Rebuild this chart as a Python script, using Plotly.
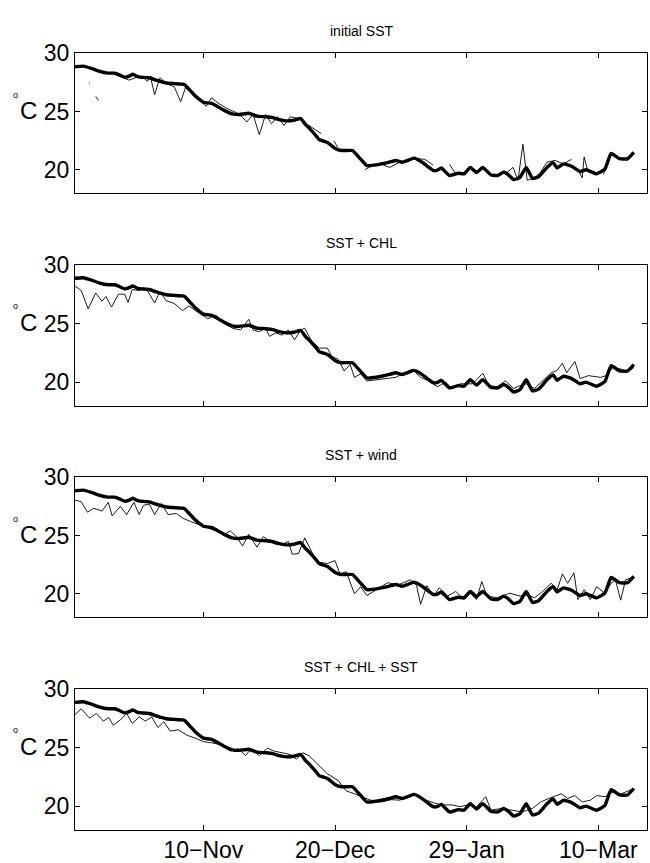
import plotly.graph_objects as go
import pandas as pd

START = "2002-10-02"

panel_titles = ["initial SST", "SST + CHL", "SST + wind", "SST + CHL + SST"]
tick_dates = ["2002-11-10", "2002-12-20", "2003-01-29", "2003-03-10"]
tick_labels = ["10\u2212Nov", "20\u2212Dec", "29\u2212Jan", "10\u2212Mar"]
y_ticks = [20, 25, 30]

# observed (thick) series: days since 2 Oct, value in degC
obs_days = [0, 2.5, 5, 7.5, 10, 12, 13.5, 15.1, 16.5, 17.6, 19, 20.1, 22.6, 25.2, 27.7, 30,
            32.7, 33.3, 35, 36.5, 38, 39, 41.5, 43.5, 45.3, 47.8, 50, 52.8, 55.3, 58, 60.4, 62,
            64.2, 66.5, 68.6, 70, 71.1, 73, 74.2, 76.7, 79.2, 81, 84.3, 86.5, 88.7, 91, 93.1,
            95.5, 97.5, 99.4, 101.5, 103.1, 105.7, 107.5, 108.8, 110, 111.3, 113.8, 116.4,
            118.2, 120.1, 122, 123.9, 126.4, 128.5, 130.2, 131.5, 133.3, 135.2, 137.1, 139,
            140.9, 143.4, 145.3, 146.5, 148.4, 150.9, 153.5, 155.3, 158.5, 161, 162.9, 165.4,
            167.9, 169.8]
obs_sst = [28.85, 28.9, 28.7, 28.45, 28.3, 28.3, 28.15, 27.95, 28.05, 28.2, 28.0, 27.95, 27.9,
           27.65, 27.45, 27.4, 27.35, 27.3, 26.8, 26.35, 26.0, 25.8, 25.7, 25.4, 25.1, 24.8,
           24.75, 24.85, 24.6, 24.55, 24.45, 24.3, 24.2, 24.25, 24.4, 23.9, 23.6, 23.0, 22.6,
           22.35, 21.8, 21.65, 21.65, 21.0, 20.35, 20.4, 20.5, 20.65, 20.8, 20.65, 20.85, 21.0,
           20.6, 20.2, 19.95, 19.95, 20.15, 19.5, 19.7, 19.65, 20.2, 19.75, 20.2, 19.55, 19.5,
           19.8, 19.6, 19.15, 19.35, 20.2, 19.25, 19.4, 20.2, 20.6, 20.15, 20.5, 20.3, 19.85,
           20.0, 19.65, 20.05, 21.4, 20.95, 20.95, 21.5]

# model (thin) series, one per panel; None marks missing values
sst_days = [4.2, 4.5, None, 6.3, 7.2, None,
            8.8, 11.3, 13.8, 16.4, 18.9, 20.8, 22.0, 22.9, 24.2, 25.8, 27.7, 30.2, 32.1, 33.7,
            36.5, 39.9, 41.5, 43.4, 45.9, 49.1, 50.9, 52.2, 54.1, 56.0, 57.9, 59.7, 61.6, 63.5,
            65.4, 67.9, None, 71.1, 74.8, None, 78.6, 79.9, None,
            88.1, 90.6, 93.0, 95.6, 98.7, 100.6, None, 103.8, 106.3, 108.8, None,
            113.8, 115.7, None, 120.8, 123.3, None,
            125.8, 128.3, 131.4, 133.1, 134.6, 136.1, 137.4, 139.6, 141.5, 143.4, 145.9, 148.4,
            150.9, None, 153.0, 154.1, 154.7, 155.7, None,
            160.5, 161.6, 162.9, 165.4, 167.9, 169.8]
sst_val = [27.5, 27.45, None, 26.3, 25.95, None,
           28.3, 28.3, 28.0, 27.7, 27.95, 27.9, 27.6, 28.0, 26.45, 27.9, 27.45, 27.1, 25.85, 27.15,
           26.3, 25.45, 26.2, 25.75, 25.3, 24.9, 24.5, 24.1, 24.75, 23.0, 24.75, 23.95, 24.55, 23.8,
           24.55, 24.4, None, 23.8, 23.1, None, 22.5, 21.9, None,
           20.0, 20.4, 20.5, 20.2, 20.65, 20.7, None, 20.95, 20.9, 20.4, None,
           20.45, 19.65, None, 19.9, 19.95, None,
           19.6, 19.6, 19.8, 20.2, 19.1, 22.2, 19.1, 19.3, 19.8, 20.65, 20.8, 20.5,
           20.9, None, 19.9, 19.3, 21.1, 20.0, None,
           19.6, 20.3, 21.3, 21.0, 20.8, 21.4]

chl_days = [0, 1.9, 4.0, 6.3, 8.2, 9.4, 11.1, 13.2, 15.1, 16.1, 17.4, 19.5, 20.8, 22.0, 24.2,
            25.8, 27.7, 30.2, 32.7, 34.6, 37.1, 40.3, 42.8, 45.3, 47.8, 50.3, 52.8, 54.1, 56.0,
            57.9, 59.1, 61.0, 62.9, 64.8, 66.7, 68.6, 69.8, 71.7, 74.2, 76.7, 78.0, 79.9, 81.8,
            83.6, 84.9, 86.8, 88.7, 91.2, 93.7, 97.5, 99.4, 102.5, 105.0, 107.5, 110.1, 112.6,
            114.5, 117.0, 120.8, 123.9, 125.8, 128.3, 130.8, 133.3, 135.2, 137.1, 139.6, 142.1,
            144.7, 146.5, 148.1, 149.4, 151.9, 153.5, 156.0, 159.7, 161.3, 163.5, 166.0, 167.9,
            169.8]
chl_val = [28.2, 27.8, 26.25, 27.6, 26.9, 27.3, 26.4, 27.5, 27.5, 26.8, 27.9, 27.8, 28.05, 27.8,
           26.75, 27.7, 26.95, 26.7, 26.1, 26.5, 26.0, 25.4, 25.7, 25.0, 24.6, 24.45, 25.35,
           24.45, 24.3, 24.6, 23.9, 24.2, 24.0, 24.45, 23.6, 24.45, 24.6, 23.6, 22.9, 22.9,
           22.2, 21.95, 20.95, 21.5, 20.4, 20.7, 20.1, 20.2, 20.3, 20.4, 20.7, 21.1, 20.4, 20.1,
           19.6, 20.0, 19.45, 19.85, 19.85, 20.75, 19.7, 19.6, 20.1, 19.45, 19.7, 19.85, 19.45,
           20.1, 20.8, 21.0, 21.6, 20.8, 21.75, 20.3, 20.55, 20.4, 20.55, 21.25, 21.1, 20.85,
           21.25]

wind_days = [0, 1.9, 3.8, 5.7, 8.2, 10.1, 11.3, 13.8, 15.7, 17.9, 19.5, 20.8, 22.6, 24.2, 26.2,
             28.3, 30.8, 32.7, 35.2, 37.7, 40.3, 42.8, 45.3, 47.2, 49.1, 50.9, 52.8, 55.3, 57.2,
             60.4, 62.9, 64.8, 66.0, 67.9, 69.8, 72.3, 74.2, 76.7, 79.0, 80.5, 82.4, 84.9, 86.8,
             88.7, 91.2, 95.0, 98.1, 101.9, 103.8, 105.0, 106.9, 108.8, 110.7, 113.2, 115.7,
             118.2, 120.1, 122.0, 123.6, 125.2, 128.3, 132.1, 135.2, 137.7, 139.6, 142.1, 144.7,
             146.5, 148.1, 149.7, 151.6, 152.8, 154.7, 156.6, 158.5, 161.0, 162.9, 164.2, 165.8,
             167.3, 169.8]
wind_val = [28.05, 27.9, 27.0, 27.35, 27.1, 27.85, 26.7, 27.5, 26.8, 27.85, 26.8, 27.6, 27.7,
            26.8, 27.75, 26.8, 26.9, 26.5, 26.2, 25.9, 25.65, 25.4, 25.1, 25.4, 24.9, 24.1, 25.1,
            24.0, 24.9, 24.3, 24.2, 24.5, 23.4, 23.45, 24.8, 23.4, 22.7, 22.6, 22.85, 21.7, 21.9,
            20.0, 20.6, 19.85, 20.3, 20.95, 20.75, 21.2, 20.7, 19.1, 20.7, 19.8, 20.5, 19.8, 20.2,
            19.5, 20.05, 19.5, 21.05, 19.8, 19.65, 20.05, 19.8, 19.9, 19.65, 20.2, 20.9, 20.35,
            21.7, 20.9, 21.8, 19.5, 20.35, 19.5, 20.6, 20.05, 20.9, 21.2, 19.45, 21.2, 21.45]

all_days = [0, 1.9, 4.4, 6.5, 8.6, 10.3, 11.6, 13.8, 15.7, 17.4, 19.5, 21.4, 23.3, 25.2, 27.0,
            28.9, 31.4, 34.0, 36.5, 39.0, 41.5, 44.0, 47.2, 49.7, 51.8, 53.5, 56.0, 58.5, 60.4,
            62.9, 65.4, 67.3, 69.2, 71.1, 73.6, 76.7, 79.9, 82.4, 84.9, 87.4, 89.9, 93.1, 96.2,
            98.7, 101.3, 103.8, 106.3, 108.8, 111.3, 114.5, 117.0, 119.5, 122.0, 124.8, 126.4,
            129.6, 132.7, 135.8, 139.0, 141.5, 144.0, 147.8, 149.7, 151.9, 154.1, 156.6, 158.5,
            161.0, 163.5, 166.0, 169.8]
all_val = [27.8, 28.3, 27.5, 27.9, 27.25, 27.55, 26.9, 27.35, 27.9, 27.05, 27.6, 27.25, 27.6,
           26.7, 27.2, 26.4, 26.5, 26.05, 25.8, 25.5, 25.4, 25.25, 24.7, 24.9, 24.3, 24.9, 24.3,
           24.95, 24.7, 24.55, 24.4, 24.0, 24.55, 24.3, 23.6, 22.75, 22.2, 21.3, 21.05, 20.8,
           20.5, 20.35, 20.55, 20.5, 20.9, 21.0, 20.55, 20.3, 20.1, 20.1, 19.95, 20.1, 19.95,
           20.8, 19.65, 19.8, 19.65, 19.5, 19.8, 20.35, 20.65, 21.05, 20.65, 20.9, 20.35, 20.5,
           20.9, 20.8, 21.2, 21.05, 21.5]

model_series = [(sst_days, sst_val), (chl_days, chl_val), (wind_days, wind_val), (all_days, all_val)]

base = pd.Timestamp(START)


def to_dates(days):
    return [None if d is None else base + pd.Timedelta(days=d) for d in days]


FONT = "Liberation Sans, Arial, Helvetica, sans-serif"
W, H = 650, 863
x_dom = [75 / W, 647 / W]
panel_px = [(41, 183), (256, 399), (472, 614), (687, 830)]

fig = go.Figure()
annotations = []
layout = dict(
    width=W, height=H, margin=dict(l=0, r=0, t=0, b=0),
    paper_bgcolor="white", plot_bgcolor="white", showlegend=False,
    font=dict(family=FONT, color="black"),
)

for i, (title, (mdays, mvals)) in enumerate(zip(panel_titles, model_series)):
    k = i + 1
    xa = "x" if k == 1 else f"x{k}"
    ya = "y" if k == 1 else f"y{k}"
    fig.add_trace(go.Scatter(x=to_dates(mdays), y=mvals, mode="lines",
                             line=dict(color="black", width=0.9),
                             connectgaps=False, xaxis=xa, yaxis=ya, hoverinfo="skip"))
    fig.add_trace(go.Scatter(x=to_dates(obs_days), y=obs_sst, mode="lines",
                             line=dict(color="black", width=3.4, shape="spline", smoothing=0.4),
                             xaxis=xa, yaxis=ya, hoverinfo="skip"))
    top, bot = panel_px[i]
    y_dom = [1 - bot / H, 1 - top / H]
    layout[f"xaxis{k if k > 1 else ''}"] = dict(
        domain=x_dom, anchor=ya, type="date",
        range=[base, base + pd.Timedelta(days=173.8)],
        tickvals=tick_dates, ticktext=tick_labels,
        showticklabels=(k == 4), tickfont=dict(size=23, family=FONT),
        ticks="inside", ticklen=5, tickcolor="black", tickwidth=1,
        showline=True, linecolor="black", linewidth=1, mirror="ticks",
        showgrid=False, zeroline=False,
    )
    layout[f"yaxis{k if k > 1 else ''}"] = dict(
        domain=y_dom, anchor=xa, range=[18, 30],
        tickvals=y_ticks, ticktext=[str(v) for v in y_ticks],
        tickfont=dict(size=23, family=FONT),
        ticks="inside", ticklen=5, tickcolor="black", tickwidth=1,
        showline=True, linecolor="black", linewidth=1, mirror="ticks",
        showgrid=False, zeroline=False,
    )
    annotations.append(dict(text=title, xref="paper", yref="paper",
                            x=(x_dom[0] + x_dom[1]) / 2, y=y_dom[1], yshift=22,
                            xanchor="center", yanchor="middle", showarrow=False,
                            font=dict(size=14, family=FONT)))
    annotations.append(dict(text="C", xref="paper", yref=ya, x=28 / W, y=25, yshift=1,
                            xanchor="center", yanchor="middle", showarrow=False,
                            font=dict(size=24, family=FONT)))
    annotations.append(dict(text="o", xref="paper", yref=ya, x=15.5 / W, y=25, yshift=17,
                            xanchor="center", yanchor="middle", showarrow=False,
                            font=dict(size=9, family=FONT)))

layout["annotations"] = annotations
fig.update_layout(**layout)
fig.write_html("out.html")
